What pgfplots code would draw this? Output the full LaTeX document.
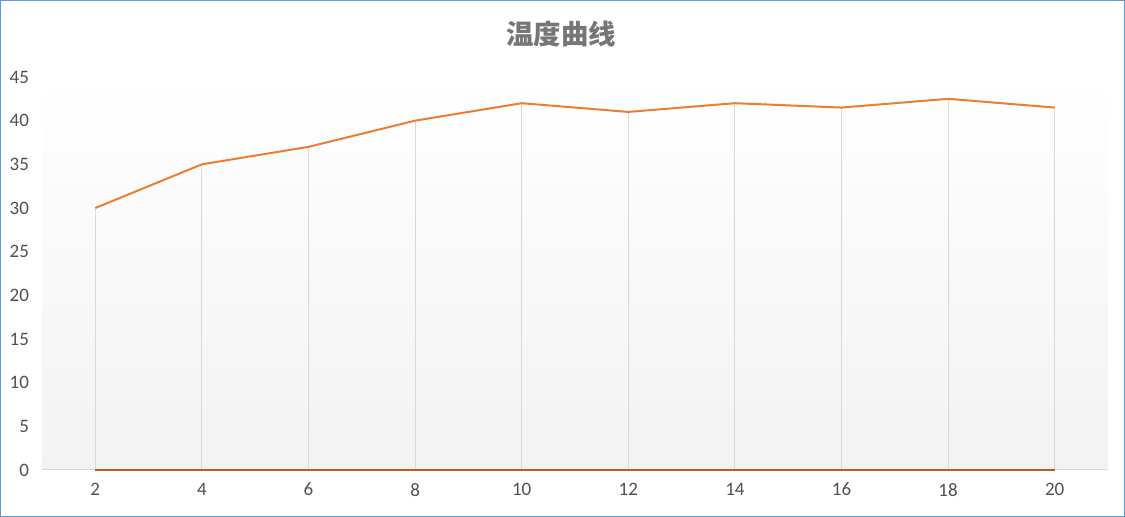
\documentclass[border=0pt]{standalone}
\usepackage{pgfplots}
\pgfplotsset{compat=1.18}
\usepackage{fontspec}
\setmainfont{Carlito}
\newfontfamily\cjk{Noto Sans CJK SC}
\definecolor{lineor}{HTML}{ED7D31}
\definecolor{zeroor}{HTML}{C55A11}
\definecolor{tickc}{HTML}{505050}
\definecolor{titlec}{HTML}{767676}
\definecolor{gridc}{HTML}{D9D9D9}
\definecolor{borderc}{HTML}{5B9BD5}
\begin{document}
\begin{tikzpicture}
\begin{axis}[
  scale only axis,
  width=533pt, height=196.5pt,
  xmin=1, xmax=21, ymin=0, ymax=45,
  xtick={2,4,...,20}, ytick={0,5,...,45},
  axis x line*=bottom, axis y line*=left,
  y axis line style={draw=none},
  x axis line style={draw=gridc, line width=0.5pt},
  major tick length=0pt,
  tick label style={font=\fontsize{9.5}{10}\selectfont, text=tickc},
  yticklabel style={xshift=-3pt},
  xticklabel style={yshift=-3pt},
  axis background/.style={shade, top color=white, bottom color=black!5},
  /pgf/number format/assume math mode=true,
  clip=false,
]
\addplot[ycomb, draw=gridc, line width=0.5pt, forget plot] coordinates {
(2,30) (4,35) (6,37) (8,40) (10,42) (12,41) (14,42) (16,41.5) (18,42.5) (20,41.5)};
\addplot[draw=zeroor, line width=1.4pt] coordinates {
(2,0) (4,0) (6,0) (8,0) (10,0) (12,0) (14,0) (16,0) (18,0) (20,0)};
\addplot[draw=lineor, line width=1pt] coordinates {
(2,30) (4,35) (6,37) (8,40) (10,42) (12,41) (14,42) (16,41.5) (18,42.5) (20,41.5)};
\end{axis}
\node[font=\cjk\bfseries\fontsize{13.7}{15}\selectfont, text=titlec] at (259.5pt,218pt) {温度曲线};
\draw[borderc, line width=0.5pt] (-20.75pt,-23.25pt) rectangle (541.25pt,234.75pt);
\pgfresetboundingbox
\path[use as bounding box] (-21pt,-23.5pt) rectangle (541.5pt,235pt);
\end{tikzpicture}
\end{document}
